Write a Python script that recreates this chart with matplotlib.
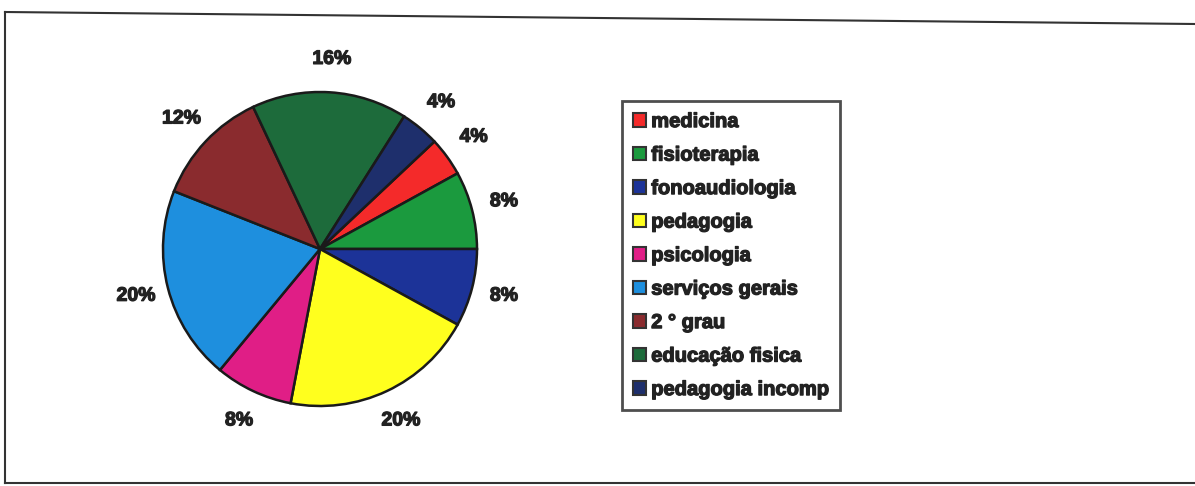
import matplotlib
matplotlib.use("Agg")
import matplotlib.pyplot as plt
import matplotlib.patheffects as pe
from matplotlib.lines import Line2D
from matplotlib.patches import Patch

categories = ["medicina", "fisioterapia", "fonoaudiologia", "pedagogia", "psicologia",
              "serviços gerais", "2 ° grau", "educação fisica", "pedagogia incomp"]
values = [4, 8, 8, 20, 8, 20, 12, 16, 4]
colors = ["#F42A2A", "#1B9A3E", "#1C3398", "#FFFF1E", "#E01E86",
          "#1E8FDE", "#8A2B2E", "#1D6B3B", "#1E2F6C"]

W, H = 1195, 486
fig = plt.figure(figsize=(W / 100, H / 100), dpi=100)
fig.patch.set_facecolor("white")

plt.rcParams['font.family'] = ['Liberation Sans', 'DejaVu Sans']
thick = [pe.withStroke(linewidth=0.9, foreground="#222222")]

# Pie axes in pixel placement
cx, cy, r = 320, 249, 157
ax = fig.add_axes([(cx - r) / W, 1 - (cy + r) / H, 2 * r / W, 2 * r / H])
total = sum(values)
labels = [f"{round(100 * v / total)}%" for v in values]
wedges, texts = ax.pie(values, colors=colors, startangle=43.2, counterclock=False,
                       labels=labels, labeldistance=1.21,
                       wedgeprops=dict(edgecolor="#1a1a1a", linewidth=1.8),
                       textprops=dict(fontsize=14, fontweight="bold", color="#222222"))
for t in texts:
    t.set_ha("center")
    t.set_va("center")
    t.set_clip_on(False)
    t.set_path_effects(thick)
ax.set_xlim(-1, 1)
ax.set_ylim(-1, 1)
ax.set_aspect("equal")
ax.axis("off")

# Legend
handles = [Patch(facecolor=c, edgecolor="#333333", linewidth=1.5) for c in colors]
leg = fig.legend(handles, categories, loc="upper left",
                 bbox_to_anchor=(622 / W, 1 - 101 / H), frameon=True, fancybox=False,
                 prop=dict(size=14.5, weight="bold"), handlelength=0.65, handleheight=0.65,
                 handletextpad=0.25, labelspacing=0.72, borderpad=0.55, borderaxespad=0)
leg.get_frame().set_edgecolor("#222222")
leg.get_frame().set_linewidth(2.0)
for t in leg.get_texts():
    t.set_color("#222222")
    t.set_path_effects(thick)

# Outer border lines (scanned frame)
def px(x, y):
    return x / W, 1 - y / H

for (x0, y0), (x1, y1) in [((5, 12), (1195, 24)), ((5, 12), (5, 483)), ((5, 483), (1195, 483))]:
    a, b = px(x0, y0)
    c, d = px(x1, y1)
    fig.add_artist(Line2D([a, c], [b, d], transform=fig.transFigure, color="#333333", linewidth=1.5))

fig.savefig("out.png", dpi=100, facecolor="white")
